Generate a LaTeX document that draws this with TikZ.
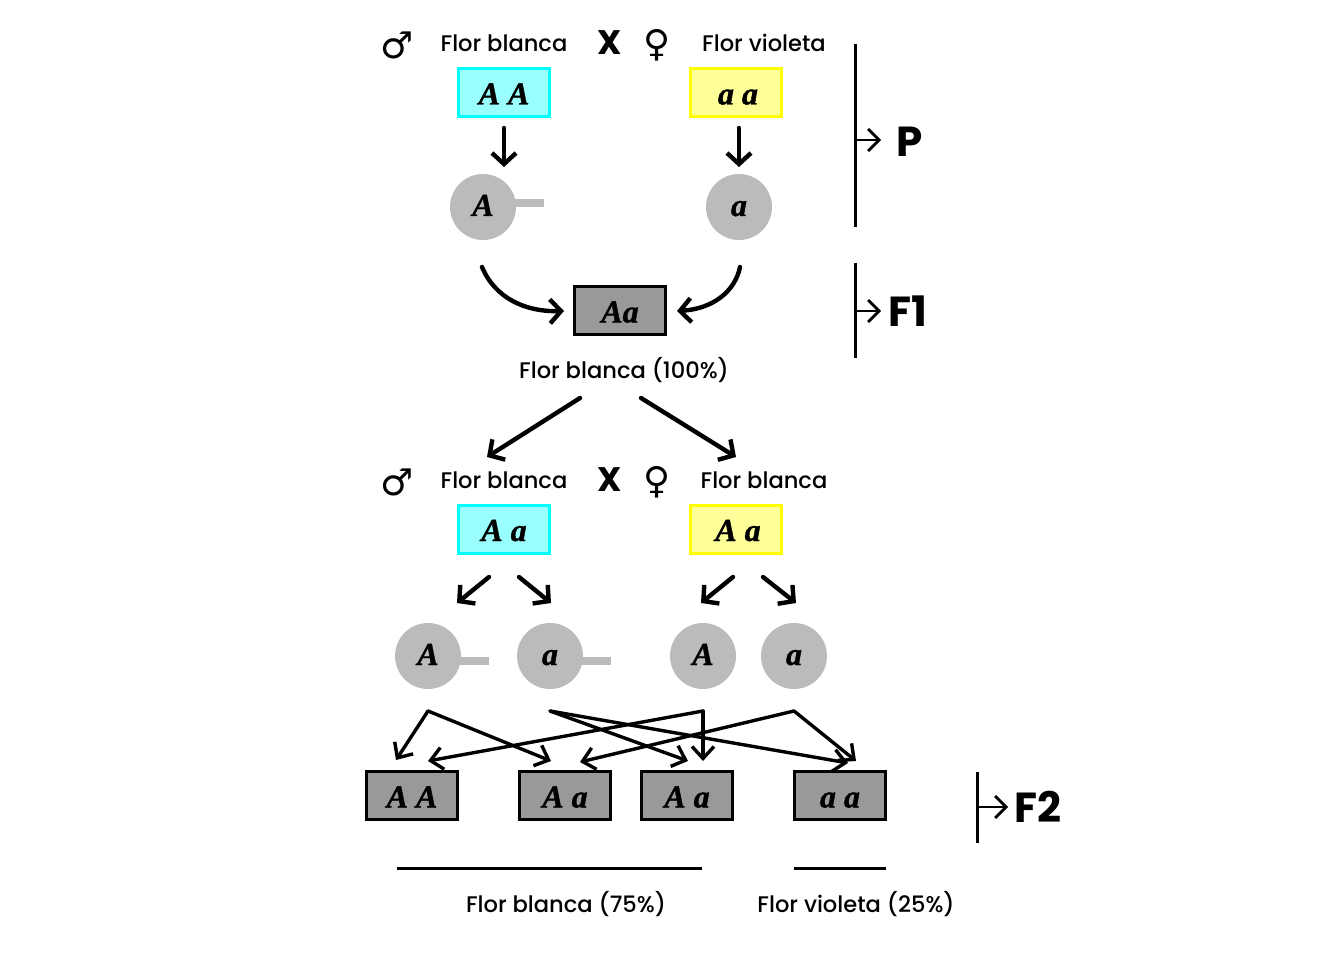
\documentclass[tikz,border=0pt]{standalone}
\usepackage{fontspec}
\setmainfont{Poppins}
\newfontfamily\plainfont{Poppins}
\newfontfamily\labfont{Poppins Medium}
\newfontfamily\allelefont[BoldItalicFont={Liberation Serif Bold Italic},BoldItalicFeatures={FakeBold=1.2}]{Liberation Serif}
\newfontfamily\symfont{DejaVu Sans}
\usetikzlibrary{arrows.meta,calc}
\definecolor{cyanline}{RGB}{0,255,255}
\definecolor{cyanfill}{RGB}{153,255,255}
\definecolor{yelline}{RGB}{255,255,0}
\definecolor{yelfill}{RGB}{255,255,153}
\definecolor{offill}{RGB}{153,153,153}
\definecolor{gamfill}{RGB}{187,187,187}
\tikzset{
  lab/.style={font=\fontsize{22.6}{26}\selectfont\labfont, inner sep=0pt},
  genbox/.style={rectangle, minimum width=91, minimum height=48, line width=3, inner sep=0pt, text height=24, text depth=0, font=\fontsize{32}{36}\selectfont\allelefont\bfseries\itshape},
  maleb/.style={genbox, draw=cyanline, fill=cyanfill},
  femb/.style={genbox, draw=yelline, fill=yelfill},
  offb/.style={genbox, draw=black, fill=offill},
  gam/.style={circle, fill=gamfill, minimum size=66, inner sep=0pt, text height=18, text depth=0, font=\fontsize{32}{36}\selectfont\allelefont\bfseries\itshape},
  stub/.style={line width=8, draw=gamfill},
  bigarr/.style={line width=4.4, -{Straight Barb[length=11,width=24,line width=4.4]}, line cap=round},
  medarr/.style={line width=3.4, -{Straight Barb[length=12,width=22,line width=3.4]}, line cap=round},
  brk/.style={line width=3},
  brkarr/.style={line width=2.8, -{Straight Barb[length=11,width=22,line width=2.8]}},
  sym/.style={font=\fontsize{37}{40}\selectfont\symfont, inner sep=0pt},
  cross/.style={font=\fontsize{34}{38}\selectfont\plainfont\bfseries, inner sep=0pt},
  gener/.style={font=\fontsize{42}{46}\selectfont\plainfont\bfseries, inner sep=0pt},
}
\begin{document}
\begin{tikzpicture}[x=1pt,y=-1pt]
\useasboundingbox (0,0) rectangle (1344,960);
% header 1
\node[sym] (m1) at (397,45) {♂};
\node[lab] (t1) at (504,43) {Flor blanca};
\node[cross] (x1) at (610,43) {X};
\node[sym] (f1) at (657,45) {♀};
\node[lab] (t2) at (764,43) {Flor violeta};
\node[maleb] (bAA) at (504,92.5) {A A};
\node[femb] (baa) at (736,92.5) {\hspace{4pt}a a};
\node[gam] (cA) at (483,207) {A};
\node[gam] (ca) at (739,207) {a};
\coordinate (s1) at (544,203);
\draw[stub] (cA.center |- s1) ++(32,0) -- (s1);
\coordinate (a1s) at (504,128); \coordinate (a1e) at (504,167);
\coordinate (a2s) at (739,128); \coordinate (a2e) at (739,167);
\draw[bigarr] (a1s) -- (a1e);
\draw[bigarr] (a2s) -- (a2e);
% F1
\node[offb] (F1) at (620,310.5) {Aa};
\coordinate (c1s) at (482,267); \coordinate (c1e) at (564,311);
\coordinate (c2s) at (740,267); \coordinate (c2e) at (677,311);
\draw[bigarr] (c1s) .. controls (495,298) and (525,312) .. (c1e);
\draw[bigarr] (c2s) .. controls (735,292) and (712,309) .. (c2e);
\node[lab] (t3) at (624,370) {Flor blanca (100\%)};
\coordinate (d1s) at (580,398); \coordinate (d1e) at (487,457);
\coordinate (d2s) at (641,398); \coordinate (d2e) at (736,457);
\draw[bigarr] (d1s) -- (d1e);
\draw[bigarr] (d2s) -- (d2e);
% header 2
\node[sym] (m2) at (397,482) {♂};
\node[lab] (t4) at (504,480) {Flor blanca};
\node[cross] (x2) at (610,480) {X};
\node[sym] (f2) at (657,482) {♀};
\node[lab] (t5) at (764,480) {Flor blanca};
\node[maleb] (bAa) at (504,529) {A a};
\node[femb] (bAa2) at (736,529) {\hspace{4pt}A a};
\coordinate (e1s) at (489,577); \coordinate (e1e) at (457,603);
\coordinate (e2s) at (519,577); \coordinate (e2e) at (551,603);
\coordinate (e3s) at (733,577); \coordinate (e3e) at (701,603);
\coordinate (e4s) at (763,577); \coordinate (e4e) at (796,603);
\foreach \n in {1,2,3,4} \draw[bigarr] (e\n s) -- (e\n e);
% gametes row 2
\node[gam] (g1) at (428,656) {A};
\node[gam] (g2) at (550,656) {a};
\node[gam] (g3) at (703,656) {A};
\node[gam] (g4) at (794,656) {a};
\coordinate (s2) at (489,661); \coordinate (s3) at (611,661);
\draw[stub] (460,661) -- (s2);
\draw[stub] (582,661) -- (s3);
% cross arrows
\coordinate (h1) at (428,711); \coordinate (h2) at (550,711);
\coordinate (h3) at (703,711); \coordinate (h4) at (794,711);
\coordinate (k1) at (396,760); \coordinate (k2) at (551,761);
\coordinate (k3) at (688,761); \coordinate (k4) at (848,763);
\coordinate (k5) at (428,761); \coordinate (k6) at (703,761);
\coordinate (k7) at (580,762); \coordinate (k8) at (856,761);
\draw[medarr] (h1) -- (k1);
\draw[medarr] (h1) -- (k2);
\draw[medarr] (h2) -- (k3);
\draw[medarr] (h2) -- (k4);
\draw[medarr] (h3) -- (k5);
\draw[medarr] (h3) -- (k6);
\draw[medarr] (h4) -- (k7);
\draw[medarr] (h4) -- (k8);
% F2 boxes
\node[offb] (o1) at (412,795.5) {A A};
\node[offb] (o2) at (565,795.5) {A a};
\node[offb] (o3) at (687,795.5) {A a};
\node[offb] (o4) at (840,795.5) {a a};
% result lines
\coordinate (l1) at (397,868); \coordinate (l2) at (702,868);
\coordinate (l3) at (794,868); \coordinate (l4) at (886,868);
\draw[brk] (l1) -- (l2);
\draw[brk] (l3) -- (l4);
\node[lab] (t6) at (566,904) {Flor blanca (75\%)};
\node[lab] (t7) at (856,904) {Flor violeta (25\%)};
% brackets
\coordinate (p1) at (855,44); \coordinate (p2) at (855,227);
\coordinate (p3) at (855,140); \coordinate (p4) at (881,140);
\draw[brk] (p1) -- (p2);
\draw[brkarr] (p3) -- (p4);
\node[gener] (P) at (910,142) {P};
\coordinate (q1) at (855,263); \coordinate (q2) at (855,358);
\coordinate (q3) at (855,311); \coordinate (q4) at (881,311);
\draw[brk] (q1) -- (q2);
\draw[brkarr] (q3) -- (q4);
\node[gener] (LF1) at (908,311) {F1};
\coordinate (r1) at (977,772); \coordinate (r2) at (977,843);
\coordinate (r3) at (977,807); \coordinate (r4) at (1008,807);
\draw[brk] (r1) -- (r2);
\draw[brkarr] (r3) -- (r4);
\node[gener] (LF2) at (1038,807) {F2};
\end{tikzpicture}
\end{document}
